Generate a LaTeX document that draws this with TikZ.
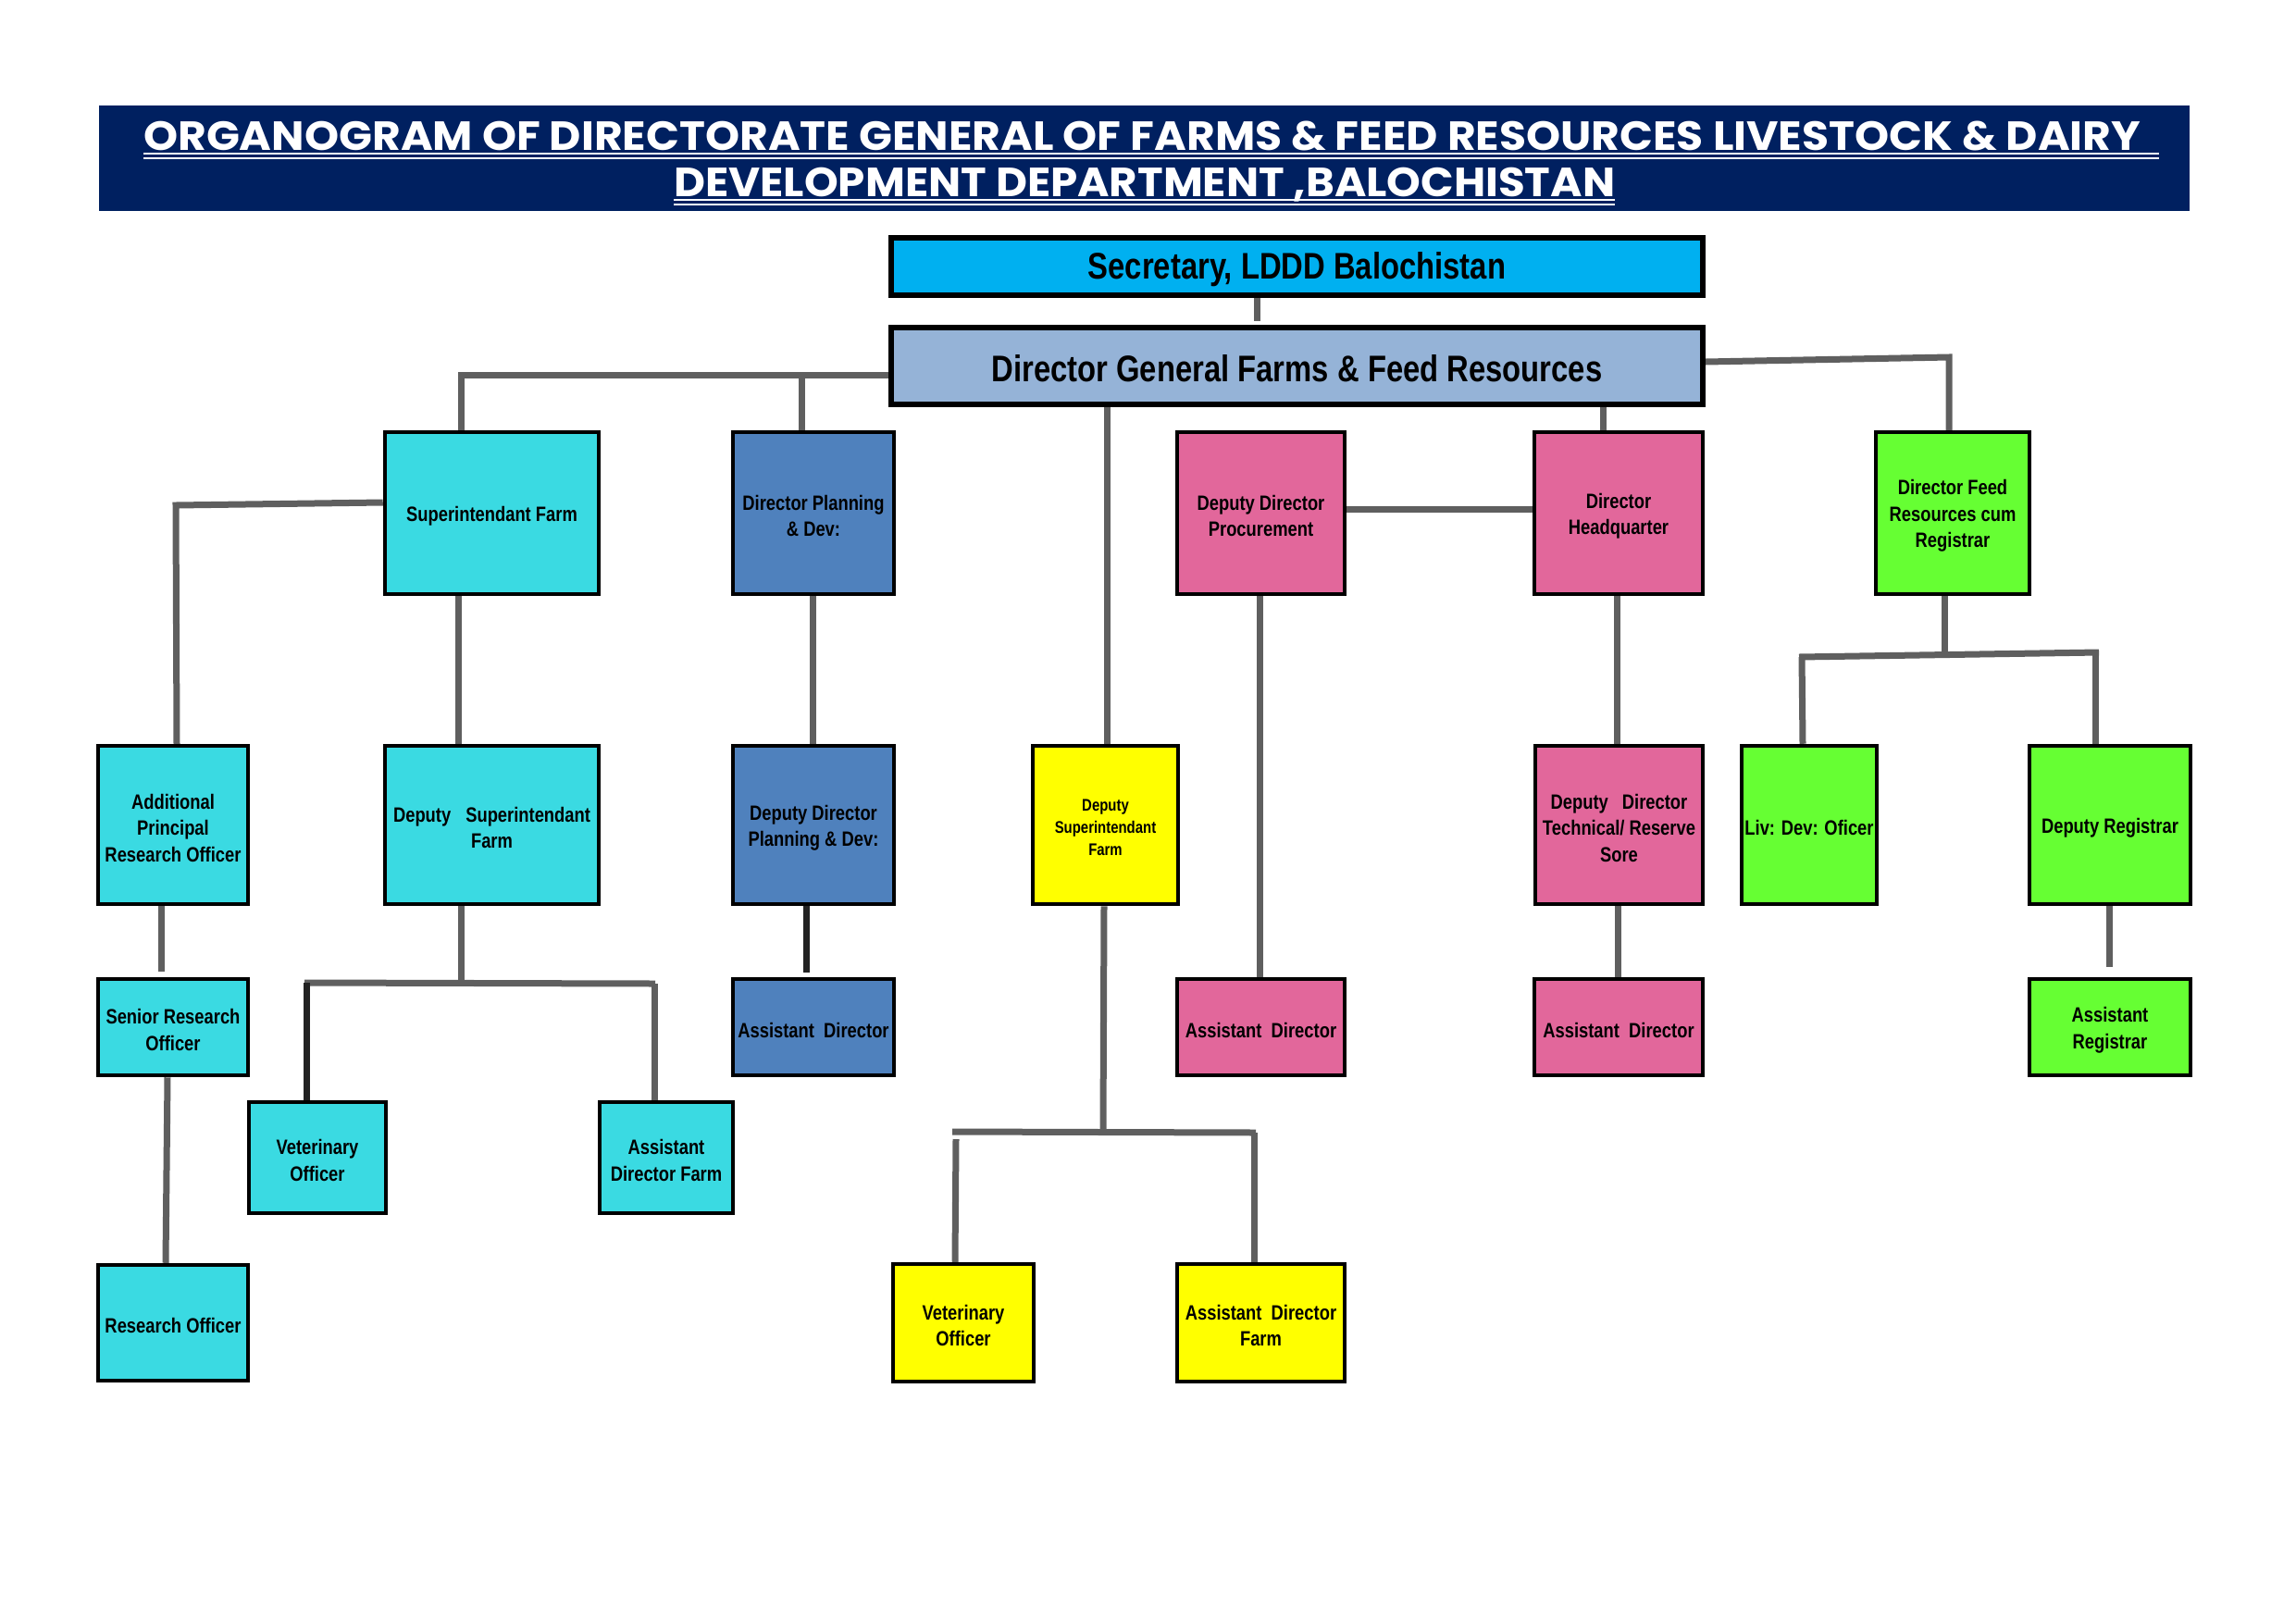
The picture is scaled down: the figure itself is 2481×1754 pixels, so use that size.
\documentclass[tikz,border=0pt]{standalone}
\usepackage{fontspec}
\usepackage{graphicx}
\setmainfont{Liberation Sans}[FakeStretch=0.82]
\newfontfamily\titlefont{Poppins}
\usetikzlibrary{backgrounds}
\definecolor{navy}{HTML}{002060}
\definecolor{secblue}{HTML}{00B0F0}
\definecolor{dgblue}{HTML}{95B3D7}
\definecolor{cyanbox}{HTML}{3ADAE2}
\definecolor{bluebox}{HTML}{4F81BD}
\definecolor{pinkbox}{HTML}{E2679B}
\definecolor{greenbox}{HTML}{66FF33}
\definecolor{yellowbox}{HTML}{FFFF00}
\definecolor{linegray}{HTML}{5F5F5F}
\definecolor{linedark}{HTML}{222222}
\newcommand\orgbox[8][]{%
  \node[box,fill=#7,minimum width={#5-#3},minimum height={#6-#4},#1] (#2) at ({(#3+#5)/2},{(#4+#6)/2}) {};
  \node[boxtext,#1] (#2-t) at ([yshift=-3pt]#2.center) {#8};}
\begin{document}
\begin{tikzpicture}[x=1pt,y=-1pt,
  box/.style={draw=black, line width=4.5pt, inner sep=0pt},
  boxtext/.style={inner sep=0pt, align=center, font={\bfseries\fontsize{22.4}{28.5}\selectfont}},
  bigbox/.style={line width=6pt, font={\bfseries\fontsize{40}{46}\selectfont}},
  smallbox/.style={font={\bfseries\fontsize{18.2}{23.7}\selectfont}},
  conn/.style={draw=linegray, line width=7pt, line cap=butt, line join=miter},
  darkconn/.style={conn, draw=linedark},
  ttl/.style={anchor=base west, inner sep=0pt, text=white, font={\titlefont\bfseries\fontsize{44}{50}\selectfont}},
  uline/.style={draw=white, line width=2.5pt}
]
\useasboundingbox (0,0) rectangle (2481,1754);
% title bar
\fill[navy] (107,114) rectangle (2366,228);
\node[ttl] (t1) at (155,162) {\resizebox{2158pt}{\height}{ORGANOGRAM OF DIRECTORATE GENERAL OF FARMS \& FEED RESOURCES LIVESTOCK \& DAIRY}};
\node[ttl] (t2) at (728,212) {\resizebox{1017pt}{\height}{DEVELOPMENT DEPARTMENT ,BALOCHISTAN}};
\draw[uline] (155,166) -- (2333,166);
\draw[uline] (155,171) -- (2333,171);
\draw[uline] (728,216) -- (1745,216);
\draw[uline] (728,221) -- (1745,221);
% top boxes
\orgbox[bigbox]{sec}{963}{257}{1840}{319}{secblue}{Secretary, LDDD Balochistan}
\orgbox[bigbox]{dg}{963}{354}{1840}{437}{dgblue}{Director General Farms \& Feed Resources}
% row 1
\orgbox{supt}{416}{467}{647}{642}{cyanbox}{Superintendant Farm}
\orgbox{dirpd}{792}{467}{966}{642}{bluebox}{Director Planning\\\& Dev:}
\orgbox{ddproc}{1272}{467}{1453}{642}{pinkbox}{Deputy Director\\Procurement}
\orgbox{dirhq}{1658}{467}{1840}{642}{pinkbox}{Director\\Headquarter}
\orgbox{dirfeed}{2027}{467}{2193}{642}{greenbox}{Director Feed\\Resources cum\\Registrar}
% row 2
\orgbox{apro}{106}{806}{268}{977}{cyanbox}{Additional\\Principal\\Research Officer}
\orgbox{dsupt}{416}{806}{647}{977}{cyanbox}{Deputy\hspace{16pt}Superintendant\\Farm}
\orgbox{ddpd}{792}{806}{966}{977}{bluebox}{Deputy Director\\Planning \& Dev:}
\orgbox[smallbox]{ydsupt}{1116}{806}{1273}{977}{yellowbox}{Deputy\\Superintendant\\Farm}
\orgbox{ddtech}{1659}{806}{1840}{977}{pinkbox}{Deputy\hspace{15pt}Director\\Technical/ Reserve\\Sore}
\orgbox{livdev}{1882}{806}{2028}{977}{greenbox}{Liv: Dev: Oficer}
\orgbox{depreg}{2193}{806}{2367}{977}{greenbox}{Deputy Registrar}
% row 3
\orgbox{sro}{106}{1058}{268}{1162}{cyanbox}{Senior Research\\Officer}
\orgbox{adblue}{792}{1058}{966}{1162}{bluebox}{Assistant\ \ Director}
\orgbox{adpinka}{1272}{1058}{1453}{1162}{pinkbox}{Assistant\ \ Director}
\orgbox{adpinkb}{1658}{1058}{1840}{1162}{pinkbox}{Assistant\ \ Director}
\orgbox{asstreg}{2193}{1058}{2367}{1162}{greenbox}{Assistant\\Registrar}
\orgbox{vo}{269}{1191}{417}{1311}{cyanbox}{Veterinary\\Officer}
\orgbox{adf}{648}{1191}{792}{1311}{cyanbox}{Assistant\\Director Farm}
% row 4
\orgbox{ro}{106}{1367}{268}{1492}{cyanbox}{Research Officer}
\orgbox{yvo}{965}{1366}{1117}{1493}{yellowbox}{Veterinary\\Officer}
\orgbox{yadf}{1272}{1366}{1453}{1493}{yellowbox}{Assistant\ \ Director\\Farm}
% connectors
\begin{pgfonlayer}{background}
\draw[conn, shorten >=4pt] (sec.south -| 1358,0) -- (dg.north -| 1358,0);
\draw[conn] (dg.west |- 0,405) -- (498,405) -- (supt.north -| 498,0);
\coordinate (jpd) at (866,405);
\draw[conn] (jpd) -- (dirpd.north -| 866,0);
\draw[conn] (dg.south -| 1196,0) -- (ydsupt.north -| 1196,0);
\draw[conn] (dg.south -| 1732,0) -- (dirhq.north -| 1732,0);
\draw[conn] (dg.east |- 0,391) -- (2106,386) -- (dirfeed.north -| 2106,0);
\draw[conn] (ddproc.east |- 0,550) -- (dirhq.west |- 0,550);
\draw[conn] (supt.west |- 0,543) -- (190,546) -- (apro.north -| 191,0);
\draw[conn] (supt.south -| 495,0) -- (dsupt.north -| 495,0);
\draw[conn] (dirpd.south -| 878,0) -- (ddpd.north -| 878,0);
\draw[conn] (ddproc.south -| 1361,0) -- (adpinka.north -| 1361,0);
\draw[conn] (dirhq.south -| 1747,0) -- (ddtech.north -| 1747,0);
\coordinate (jfeed) at (2101,708);
\draw[conn] (dirfeed.south -| 2101,0) -- (jfeed);
\draw[conn] (1944,710) -- (2268,705);
\draw[conn] (1947,710) -- (livdev.north -| 1948,0);
\draw[conn] (2264,706) -- (depreg.north -| 2264,0);
\draw[conn, shorten >=6pt] (apro.south -| 174,0) -- (sro.north -| 174,0);
\coordinate (jds) at (498,1062);
\draw[conn] (dsupt.south -| 498,0) -- (jds);
\draw[conn] (329,1062) -- (708,1063);
\draw[darkconn] (331,1062) -- (vo.north -| 331,0);
\draw[conn] (707,1063) -- (adf.north -| 707,0);
\draw[darkconn, shorten >=5pt] (ddpd.south -| 871,0) -- (adblue.north -| 871,0);
\coordinate (jyd) at (1192,1223);
\draw[conn] (ydsupt.south -| 1193,0) -- (jyd);
\draw[conn] (1029,1223) -- (1357,1224);
\draw[conn] (1033,1231) -- (yvo.north -| 1032,0);
\draw[conn] (1355,1224) -- (yadf.north -| 1355,0);
\draw[conn] (ddtech.south -| 1748,0) -- (adpinkb.north -| 1748,0);
\draw[conn, shorten >=11pt] (depreg.south -| 2279,0) -- (asstreg.north -| 2279,0);
\draw[conn] (sro.south -| 181,0) -- (ro.north -| 179,0);
\end{pgfonlayer}
\end{tikzpicture}
\end{document}
